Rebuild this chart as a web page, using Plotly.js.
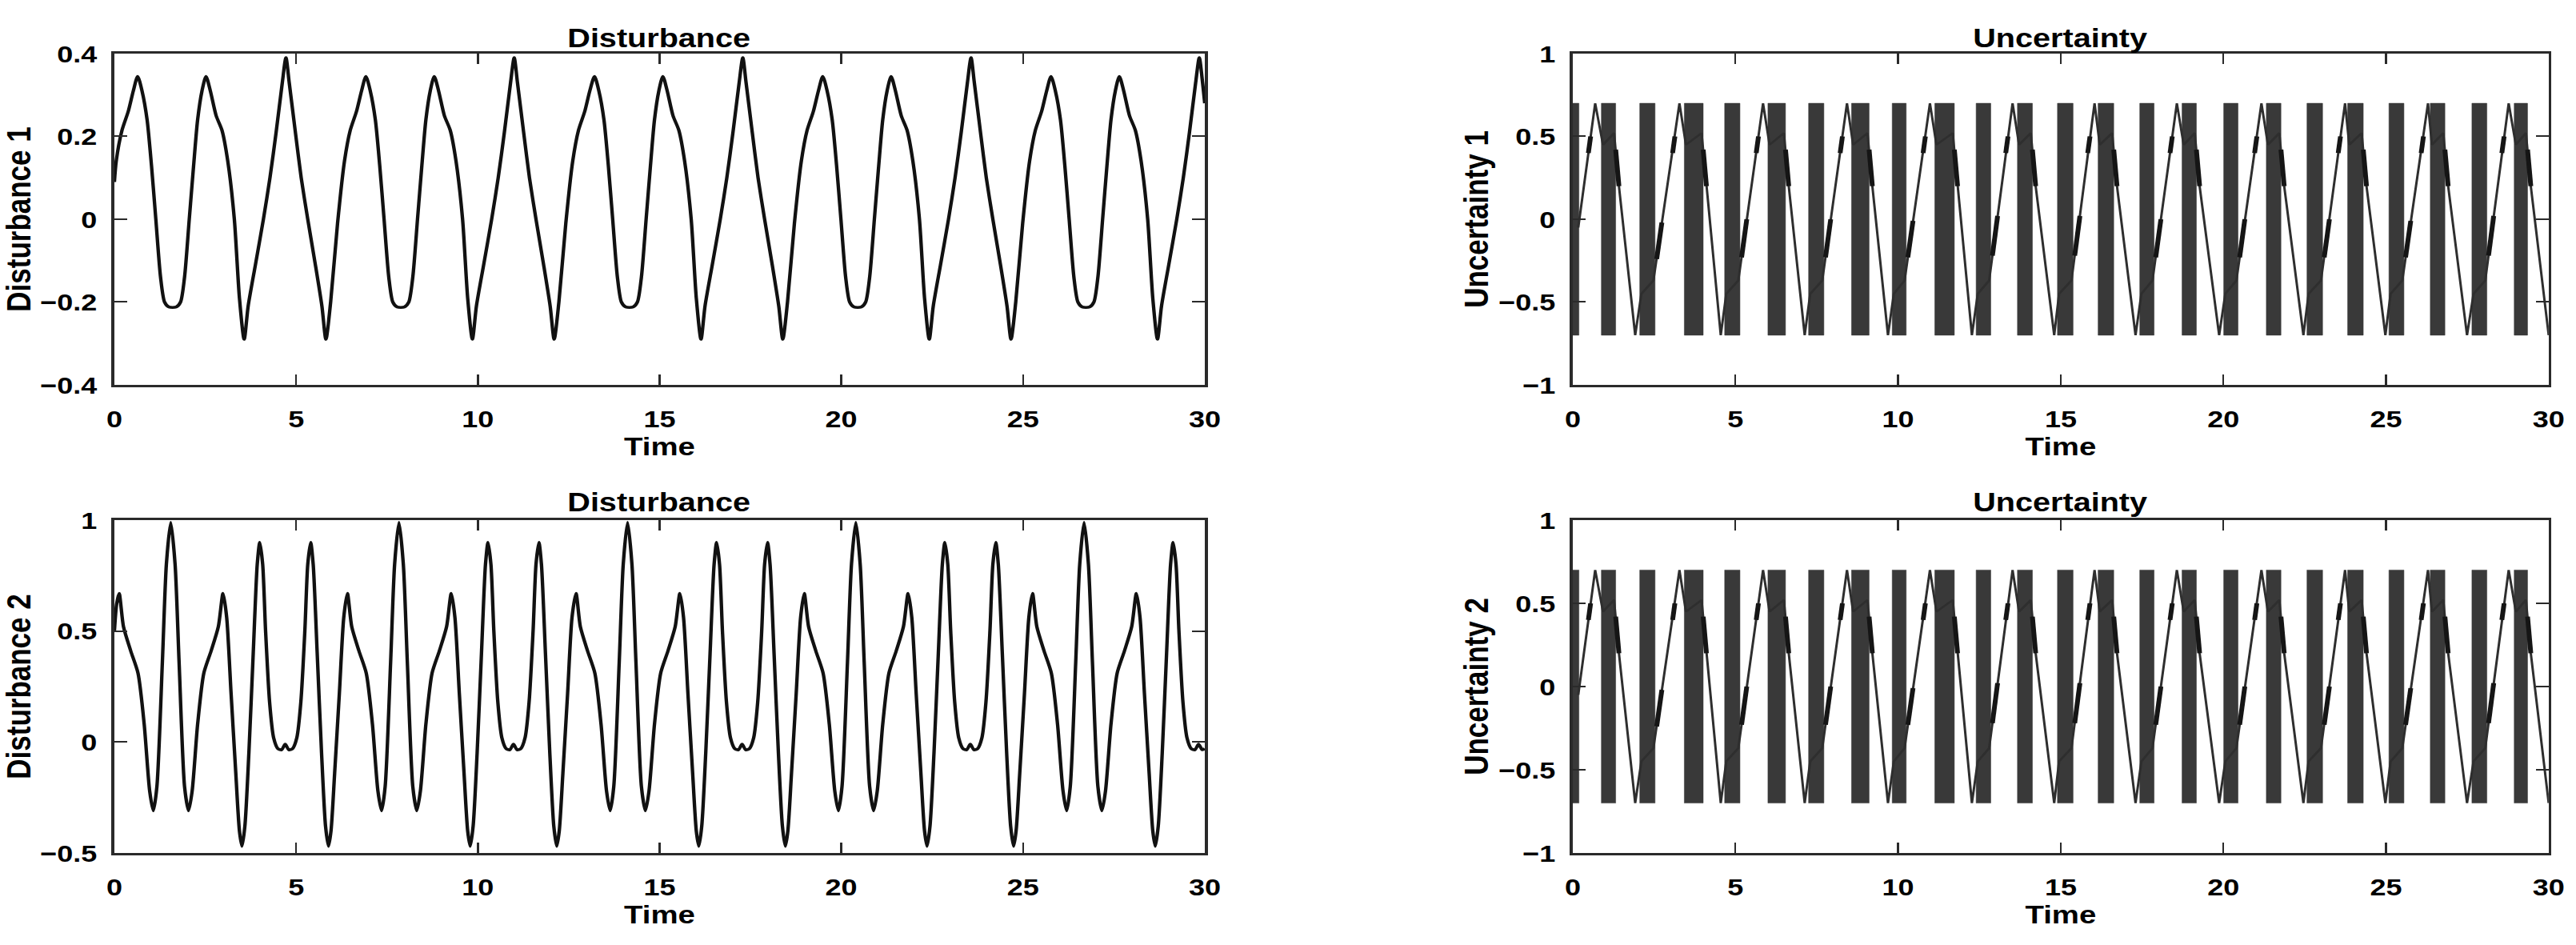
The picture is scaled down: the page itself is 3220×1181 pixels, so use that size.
<!DOCTYPE html>
<html>
<head>
<meta charset="utf-8">
<script src="https://cdn.plot.ly/plotly-3.0.1.min.js"></script>
<style>
html,body{margin:0;padding:0;background:#fff;overflow:hidden;width:3220px;height:1181px;}
#chart{width:2683px;height:1181px;transform:scaleX(1.2001);transform-origin:0 0;}
</style>
</head>
<body>
<div id="chart"></div>
<script>
// ---------- tick values ----------
const timeTicks = [0, 5, 10, 15, 20, 25, 30];
const d1Ticks = [-0.4, -0.2, 0, 0.2, 0.4];
const d2Ticks = [-0.5, 0, 0.5, 1];
const uncTicks = [-1, -0.5, 0, 0.5, 1];

// ---------- Disturbance 1 ----------
const d1Time = [0.00,0.05,0.21,0.38,0.52,
0.64,0.76,0.90,1.02,1.14,1.27,1.38,1.50,1.70,1.82,1.93,2.06,2.18,2.29,2.41,2.52,2.64,2.80,2.96,3.12,3.30,3.44,3.57,3.68,3.88,4.10,4.28,4.45,4.62,4.72,4.81,4.98,5.14,5.32,5.53,5.71,5.82,5.95,6.14,6.33,6.49,6.66,6.80,
6.92,7.04,7.18,7.30,7.42,7.55,7.66,7.78,7.98,8.10,8.21,8.34,8.46,8.57,8.69,8.80,8.92,9.08,9.24,9.40,9.58,9.72,9.85,9.96,10.16,10.38,10.56,10.73,10.90,11.00,11.09,11.26,11.42,11.60,11.81,11.99,12.10,12.23,12.42,12.61,12.77,12.94,13.08,
13.21,13.33,13.47,13.59,13.71,13.84,13.95,14.07,14.27,14.39,14.50,14.63,14.75,14.86,14.98,15.09,15.21,15.37,15.53,15.69,15.87,16.01,16.14,16.25,16.45,16.67,16.85,17.02,17.19,17.29,17.38,17.55,17.71,17.89,18.10,18.28,18.39,18.52,18.71,18.90,19.06,19.23,19.37,
19.49,19.61,19.75,19.87,19.99,20.12,20.23,20.35,20.55,20.67,20.78,20.91,21.03,21.14,21.26,21.37,21.49,21.65,21.81,21.97,22.15,22.29,22.42,22.53,22.73,22.95,23.13,23.30,23.47,23.57,23.66,23.83,23.99,24.17,24.38,24.56,24.67,24.80,24.99,25.18,25.34,25.51,25.65,
25.77,25.89,26.03,26.15,26.27,26.40,26.51,26.63,26.83,26.95,27.06,27.19,27.31,27.42,27.54,27.65,27.77,27.93,28.09,28.25,28.43,28.57,28.70,28.81,29.01,29.23,29.41,29.58,29.75,29.85,29.94,30.00];
const d1Value = [0.09,0.14,0.215,0.26,0.31,
0.345,0.31,0.24,0.13,0.00,-0.14,-0.20,-0.212,-0.212,-0.20,-0.14,0.00,0.13,0.24,0.31,0.345,0.31,0.25,0.215,0.14,0.00,-0.19,-0.29,-0.21,-0.11,0.00,0.10,0.21,0.33,0.39,0.33,0.21,0.10,0.00,-0.11,-0.21,-0.29,-0.20,-0.01,0.14,0.215,0.26,0.31,
0.345,0.31,0.24,0.13,0.00,-0.14,-0.20,-0.212,-0.212,-0.20,-0.14,0.00,0.13,0.24,0.31,0.345,0.31,0.25,0.215,0.14,0.00,-0.19,-0.29,-0.21,-0.11,0.00,0.10,0.21,0.33,0.39,0.33,0.21,0.10,0.00,-0.11,-0.21,-0.29,-0.20,-0.01,0.14,0.215,0.26,0.31,
0.345,0.31,0.24,0.13,0.00,-0.14,-0.20,-0.212,-0.212,-0.20,-0.14,0.00,0.13,0.24,0.31,0.345,0.31,0.25,0.215,0.14,0.00,-0.19,-0.29,-0.21,-0.11,0.00,0.10,0.21,0.33,0.39,0.33,0.21,0.10,0.00,-0.11,-0.21,-0.29,-0.20,-0.01,0.14,0.215,0.26,0.31,
0.345,0.31,0.24,0.13,0.00,-0.14,-0.20,-0.212,-0.212,-0.20,-0.14,0.00,0.13,0.24,0.31,0.345,0.31,0.25,0.215,0.14,0.00,-0.19,-0.29,-0.21,-0.11,0.00,0.10,0.21,0.33,0.39,0.33,0.21,0.10,0.00,-0.11,-0.21,-0.29,-0.20,-0.01,0.14,0.215,0.26,0.31,
0.345,0.31,0.24,0.13,0.00,-0.14,-0.20,-0.212,-0.212,-0.20,-0.14,0.00,0.13,0.24,0.31,0.345,0.31,0.25,0.215,0.14,0.00,-0.19,-0.29,-0.21,-0.11,0.00,0.10,0.21,0.33,0.39,0.33,0.28];

// ---------- Disturbance 2 ----------
const d2Time = [0.00,0.06,
0.13,0.25,0.45,0.65,0.82,0.97,1.07,1.17,1.32,1.43,1.55,1.67,1.78,1.93,2.04,2.14,2.29,2.46,2.66,2.86,2.99,3.09,3.21,3.34,3.44,3.51,3.59,3.70,3.82,3.93,4.00,4.08,4.16,4.27,4.38,4.50,4.60,4.70,4.80,4.90,5.02,5.13,5.24,5.32,5.40,5.47,5.58,5.70,5.81,5.89,5.96,6.06,6.19,6.31,
6.41,6.53,6.73,6.93,7.10,7.25,7.35,7.45,7.60,7.71,7.83,7.95,8.06,8.21,8.32,8.42,8.57,8.74,8.94,9.14,9.27,9.37,9.49,9.62,9.72,9.79,9.87,9.98,10.10,10.21,10.28,10.36,10.44,10.55,10.66,10.78,10.88,10.98,11.08,11.18,11.30,11.41,11.52,11.60,11.68,11.75,11.86,11.98,12.09,12.17,12.24,12.34,12.47,12.59,
12.70,12.82,13.02,13.22,13.39,13.54,13.64,13.74,13.89,14.00,14.12,14.24,14.35,14.50,14.61,14.71,14.86,15.03,15.23,15.43,15.56,15.66,15.78,15.91,16.01,16.08,16.16,16.27,16.39,16.50,16.57,16.65,16.73,16.84,16.95,17.07,17.17,17.27,17.37,17.47,17.59,17.70,17.81,17.89,17.97,18.04,18.15,18.27,18.38,18.46,18.53,18.63,18.76,18.88,
18.98,19.10,19.30,19.50,19.67,19.82,19.92,20.02,20.17,20.28,20.40,20.52,20.63,20.78,20.89,20.99,21.14,21.31,21.51,21.71,21.84,21.94,22.06,22.19,22.29,22.36,22.44,22.55,22.67,22.78,22.85,22.93,23.01,23.12,23.23,23.35,23.45,23.55,23.65,23.75,23.87,23.98,24.09,24.17,24.25,24.32,24.43,24.55,24.66,24.74,24.81,24.91,25.04,25.16,
25.26,25.38,25.58,25.78,25.95,26.10,26.20,26.30,26.45,26.56,26.68,26.80,26.91,27.06,27.17,27.27,27.42,27.59,27.79,27.99,28.12,28.22,28.34,28.47,28.57,28.64,28.72,28.83,28.95,29.06,29.13,29.21,29.29,29.40,29.51,29.63,29.73,29.83,29.93,30.00];
const d2Value = [0.50,0.62,
0.67,0.52,0.41,0.31,0.08,-0.22,-0.31,-0.20,0.36,0.80,0.99,0.80,0.36,-0.20,-0.31,-0.22,0.08,0.31,0.41,0.52,0.67,0.56,0.22,-0.14,-0.40,-0.47,-0.38,-0.05,0.40,0.80,0.90,0.80,0.50,0.18,0.02,-0.03,-0.035,-0.01,-0.035,-0.03,0.02,0.18,0.50,0.80,0.90,0.80,0.40,-0.05,-0.38,-0.47,-0.40,-0.14,0.22,0.56,
0.67,0.52,0.41,0.31,0.08,-0.22,-0.31,-0.20,0.36,0.80,0.99,0.80,0.36,-0.20,-0.31,-0.22,0.08,0.31,0.41,0.52,0.67,0.56,0.22,-0.14,-0.40,-0.47,-0.38,-0.05,0.40,0.80,0.90,0.80,0.50,0.18,0.02,-0.03,-0.035,-0.01,-0.035,-0.03,0.02,0.18,0.50,0.80,0.90,0.80,0.40,-0.05,-0.38,-0.47,-0.40,-0.14,0.22,0.56,
0.67,0.52,0.41,0.31,0.08,-0.22,-0.31,-0.20,0.36,0.80,0.99,0.80,0.36,-0.20,-0.31,-0.22,0.08,0.31,0.41,0.52,0.67,0.56,0.22,-0.14,-0.40,-0.47,-0.38,-0.05,0.40,0.80,0.90,0.80,0.50,0.18,0.02,-0.03,-0.035,-0.01,-0.035,-0.03,0.02,0.18,0.50,0.80,0.90,0.80,0.40,-0.05,-0.38,-0.47,-0.40,-0.14,0.22,0.56,
0.67,0.52,0.41,0.31,0.08,-0.22,-0.31,-0.20,0.36,0.80,0.99,0.80,0.36,-0.20,-0.31,-0.22,0.08,0.31,0.41,0.52,0.67,0.56,0.22,-0.14,-0.40,-0.47,-0.38,-0.05,0.40,0.80,0.90,0.80,0.50,0.18,0.02,-0.03,-0.035,-0.01,-0.035,-0.03,0.02,0.18,0.50,0.80,0.90,0.80,0.40,-0.05,-0.38,-0.47,-0.40,-0.14,0.22,0.56,
0.67,0.52,0.41,0.31,0.08,-0.22,-0.31,-0.20,0.36,0.80,0.99,0.80,0.36,-0.20,-0.31,-0.22,0.08,0.31,0.41,0.52,0.67,0.56,0.22,-0.14,-0.40,-0.47,-0.38,-0.05,0.40,0.80,0.90,0.80,0.50,0.18,0.02,-0.03,-0.035,-0.01,-0.035,-0.03];

// ---------- Uncertainty 1 ----------
// slow saturated wave
const unc1LineT = [0.17,0.69,0.93,1.27,1.42,1.92,2.11,2.48,3.28,3.48,3.96,4.11,4.55,4.72,5.09,5.85,6.05,6.49,6.64,7.13,7.30,7.67,8.43,8.62,9.06,9.21,9.69,9.87,10.20,10.98,11.18,11.68,11.83,12.27,12.45,12.80,13.52,13.72,14.08,14.23,14.80,14.95,15.33,16.04,16.20,16.58,16.73,17.30,17.48,17.82,18.57,18.78,19.12,19.27,19.87,20.06,20.40,21.17,21.37,21.72,21.87,22.46,22.62,23.00,23.74,23.87,24.25,24.40,24.98,25.14,25.50,26.29,26.41,26.76,26.91,27.49,27.69,28.05,28.77,28.99,29.30,29.45,30.00];
const unc1LineV = [-0.05,
0.70,0.45,0.52,0.20,-0.70,-0.45,-0.37,
0.70,0.45,0.52,0.20,-0.70,-0.45,-0.37,
0.70,0.45,0.52,0.20,-0.70,-0.45,-0.37,
0.70,0.45,0.52,0.20,-0.70,-0.45,-0.37,
0.70,0.45,0.52,0.20,-0.70,-0.45,-0.37,
0.70,0.45,0.52,0.20,-0.70,-0.45,-0.37,
0.70,0.45,0.52,0.20,-0.70,-0.45,-0.37,
0.70,0.45,0.52,0.20,-0.70,-0.45,-0.37,
0.70,0.45,0.52,0.20,-0.70,-0.45,-0.37,
0.70,0.45,0.52,0.20,-0.70,-0.45,-0.37,
0.70,0.45,0.52,0.20,-0.70,-0.45,-0.37,
0.70,0.45,0.52,0.20,-0.70];
// dense chattering bursts (switching between the saturation limits)
const unc1BandStart = [0.00,0.88,2.06,3.43,4.67,6.00,7.25,8.57,9.82,11.13,12.40,13.67,14.90,16.15,17.43,18.73,20.01,21.32,22.57,23.82,25.09,26.36,27.64,28.94];
const unc1BandEnd   = [0.19,1.32,2.53,4.01,5.14,6.54,7.72,9.11,10.25,11.73,12.85,14.13,15.38,16.63,17.87,19.17,20.45,21.77,23.05,24.30,25.55,26.81,28.10,29.35];
const unc1Low = -0.70;
const unc1High = 0.70;
// short thick fragments on the slow wave
const unc1DashT0 = [1.32,4.01,6.54,9.11,11.73,14.13,16.63,19.17,21.77,24.30,26.81,29.35,
2.58,5.19,7.77,10.30,12.90,15.43,17.92,20.50,23.10,25.60,28.15,
0.48,3.07,5.64,8.22,10.77,13.31,15.83,18.36,20.96,23.53,26.08,28.56];
const unc1DashV0 = [0.42,0.42,0.42,0.42,0.42,0.42,0.42,0.42,0.42,0.42,0.42,0.42,
-0.24,-0.23,-0.23,-0.23,-0.22,-0.22,-0.23,-0.23,-0.23,-0.23,-0.22,
0.40,0.40,0.40,0.40,0.40,0.40,0.40,0.40,0.40,0.40,0.40,0.40];
const unc1DashT1 = [1.42,4.11,6.64,9.21,11.83,14.23,16.73,19.27,21.87,24.40,26.91,29.45,
2.74,5.35,7.93,10.46,13.06,15.59,18.08,20.66,23.26,25.76,28.31,
0.55,3.14,5.71,8.29,10.84,13.38,15.90,18.43,21.03,23.60,26.15,28.63];
const unc1DashV1 = [0.20,0.20,0.20,0.20,0.20,0.20,0.20,0.20,0.20,0.20,0.20,0.20,
-0.02,0.00,0.00,-0.01,0.02,0.02,0.00,0.00,0.00,-0.01,0.02,
0.50,0.50,0.50,0.50,0.50,0.50,0.50,0.50,0.50,0.50,0.50,0.50];

// ---------- Uncertainty 2: reads the same as Uncertainty 1 ----------
const unc2LineT = unc1LineT, unc2LineV = unc1LineV;
const unc2BandStart = unc1BandStart, unc2BandEnd = unc1BandEnd;
const unc2Low = unc1Low, unc2High = unc1High;
const unc2DashT0 = unc1DashT0, unc2DashV0 = unc1DashV0, unc2DashT1 = unc1DashT1, unc2DashV1 = unc1DashV1;

// ---------- helpers ----------
const F = 'Liberation Sans, Arial, Helvetica, sans-serif';
function segs(t0, v0, t1, v1) {
  const x = [], y = [];
  for (let i = 0; i < t0.length; i++) { x.push(t0[i], t1[i], null); y.push(v0[i], v1[i], null); }
  return {x, y};
}
function bands(s, e, lo, hi) {
  const x = [], y = [];
  for (let i = 0; i < s.length; i++) { x.push(s[i], e[i], e[i], s[i], s[i], null); y.push(lo, lo, hi, hi, lo, null); }
  return {x, y};
}
function uncTraces(xa, ya, lt, lv, bs, be, lo, hi, t0, v0, t1, v1) {
  const b = bands(bs, be, lo, hi);
  const d = segs(t0, v0, t1, v1);
  return [
    {x: b.x, y: b.y, xaxis: xa, yaxis: ya, type: 'scatter', mode: 'lines', fill: 'toself',
     fillcolor: '#393939', line: {color: '#393939', width: 0.5}, hoverinfo: 'skip'},
    {x: lt, y: lv, xaxis: xa, yaxis: ya, type: 'scatter', mode: 'lines',
     line: {color: '#2e2e2e', width: 2.5}, hoverinfo: 'skip'},
    {x: d.x, y: d.y, xaxis: xa, yaxis: ya, type: 'scatter', mode: 'lines',
     line: {color: '#151515', width: 5}, hoverinfo: 'skip'}
  ];
}

const traces = [
  {x: d1Time, y: d1Value, xaxis: 'x', yaxis: 'y', type: 'scatter', mode: 'lines',
   line: {color: '#111', width: 3.6, shape: 'spline', smoothing: 0.7}},
  {x: d2Time, y: d2Value, xaxis: 'x3', yaxis: 'y3', type: 'scatter', mode: 'lines',
   line: {color: '#111', width: 3.6, shape: 'spline', smoothing: 0.7}},
  ...uncTraces('x2', 'y2', unc1LineT, unc1LineV, unc1BandStart, unc1BandEnd, unc1Low, unc1High,
               unc1DashT0, unc1DashV0, unc1DashT1, unc1DashV1),
  ...uncTraces('x4', 'y4', unc2LineT, unc2LineV, unc2BandStart, unc2BandEnd, unc2Low, unc2High,
               unc2DashT0, unc2DashV0, unc2DashT1, unc2DashV1)
];

const axisBase = {
  showline: true, linecolor: '#2a2a2a', linewidth: 3, mirror: 'ticks',
  ticks: 'inside', ticklen: 13, tickwidth: 2, tickcolor: '#2a2a2a',
  showgrid: false, zeroline: false, fixedrange: true,
  tickfont: {family: F, size: 30, color: '#000', weight: 'bold'}
};
function xAx(domain, anchor) {
  return Object.assign({}, axisBase, {
    domain: domain, anchor: anchor, range: [0, 30], tickvals: timeTicks, ticklabelstandoff: 14,
    title: {text: 'Time', font: {family: F, size: 32, color: '#000', weight: 'bold'}, standoff: 6}
  });
}
function yAx(domain, anchor, range, ticks, label) {
  return Object.assign({}, axisBase, {
    domain: domain, anchor: anchor, range: range, tickvals: ticks, ticklabelstandoff: 9,
    title: {text: label, font: {family: F, size: 35, color: '#000', weight: 'bold'}, standoff: 0}
  });
}
const L = [0.04441, 0.46770], R = [0.61056, 0.98944];
const T = [0.59272, 0.94327], B = [0.09738, 0.44962];
const titleFont = {family: F, size: 33, color: '#000', weight: 'bold'};

const layout = {
  width: 2683, height: 1181,
  margin: {l: 0, r: 0, t: 0, b: 0},
  paper_bgcolor: '#fff', plot_bgcolor: '#fff',
  showlegend: false,
  font: {family: F, color: '#000'},
  xaxis: xAx(L, 'y'),
  yaxis: yAx(T, 'x', [-0.4, 0.4], d1Ticks, 'Disturbance 1'),
  xaxis2: xAx(R, 'y2'),
  yaxis2: yAx(T, 'x2', [-1, 1], uncTicks, 'Uncertainty 1'),
  xaxis3: xAx(L, 'y3'),
  yaxis3: yAx(B, 'x3', [-0.5, 1], d2Ticks, 'Disturbance 2'),
  xaxis4: xAx(R, 'y4'),
  yaxis4: yAx(B, 'x4', [-1, 1], uncTicks, 'Uncertainty 2'),
  annotations: [
    {text: 'Disturbance', xref: 'paper', yref: 'paper', x: (L[0] + L[1]) / 2, y: 0.9602, xanchor: 'center', yanchor: 'middle', showarrow: false, font: titleFont},
    {text: 'Uncertainty', xref: 'paper', yref: 'paper', x: (R[0] + R[1]) / 2, y: 0.9602, xanchor: 'center', yanchor: 'middle', showarrow: false, font: titleFont},
    {text: 'Disturbance', xref: 'paper', yref: 'paper', x: (L[0] + L[1]) / 2, y: 0.4683, xanchor: 'center', yanchor: 'middle', showarrow: false, font: titleFont},
    {text: 'Uncertainty', xref: 'paper', yref: 'paper', x: (R[0] + R[1]) / 2, y: 0.4683, xanchor: 'center', yanchor: 'middle', showarrow: false, font: titleFont}
  ]
};

Plotly.newPlot('chart', traces, layout, {staticPlot: true, displayModeBar: false});
</script>
</body>
</html>
